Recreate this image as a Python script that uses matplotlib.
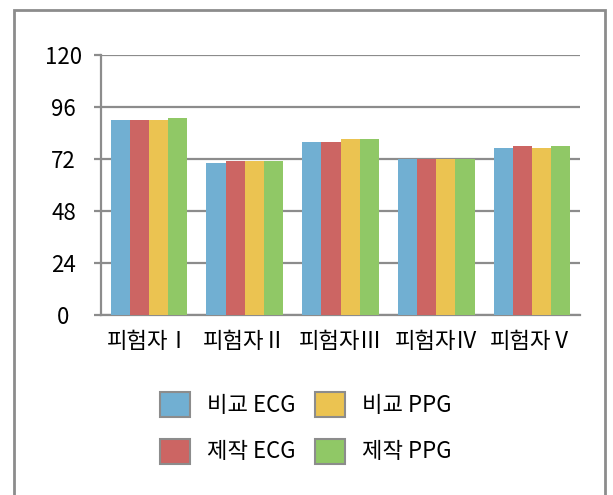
import matplotlib
matplotlib.use('Agg')
import matplotlib.pyplot as plt
from matplotlib.patches import Rectangle
import numpy as np

plt.rcParams['font.family'] = ['Noto Sans CJK KR', 'DejaVu Sans']

subjects = ['피험자Ⅰ', '피험자Ⅱ', '피험자Ⅲ', '피험자Ⅳ', '피험자Ⅴ']
series = ['비교 ECG', '제작 ECG', '비교 PPG', '제작 PPG']
ref_ecg = [90, 70, 80, 72, 77]
dev_ecg = [90, 71, 80, 72, 78]
ref_ppg = [90, 71, 81, 72, 77]
dev_ppg = [91, 71, 81, 72, 78]
colors = ['#71afd2', '#cc6563', '#ebc351', '#90c866']

W, H = 613, 495
fig = plt.figure(figsize=(W / 100, H / 100), dpi=100)
ax = fig.add_axes([101 / W, 1 - 315 / H, 479 / W, 260 / H])

grey = '#8c8c8c'
x = np.arange(len(subjects))
width = 0.8 / 4
for i, (name, vals) in enumerate(zip(series, [ref_ecg, dev_ecg, ref_ppg, dev_ppg])):
    ax.bar(x - 0.4 + width * (i + 0.5), vals, width, color=colors[i],
           linewidth=0, label=name, zorder=3)

ax.set_xlim(-0.5, len(subjects) - 0.5)
ax.set_ylim(0, 120)
ax.set_yticks([0, 24, 48, 72, 96, 120])
ax.set_xticks(x)
ax.set_xticklabels(subjects)
ax.yaxis.grid(True, color=grey, linewidth=1.6, zorder=0)
ax.tick_params(axis='y', length=5, width=1.6, color=grey, labelsize=16, pad=22)
ax.tick_params(axis='x', length=0, labelsize=16, pad=11)
for lbl in ax.get_yticklabels():
    lbl.set_horizontalalignment('center')
for s in ['top', 'right']:
    ax.spines[s].set_visible(False)
for s in ['left', 'bottom']:
    ax.spines[s].set_color(grey)
    ax.spines[s].set_linewidth(1.6)

# legend handles with grey outline
handles, labels = ax.get_legend_handles_labels()
leg = ax.legend(handles, labels, ncol=2, frameon=False, fontsize=16,
                loc='upper left', bbox_to_anchor=(149 / W, 1 - 381 / H),
                bbox_transform=fig.transFigure, borderpad=0,
                handlelength=1.35, handleheight=1.35, handletextpad=0.75,
                columnspacing=0.9, labelspacing=0.97)
for p in leg.get_patches():
    p.set_edgecolor(grey)
    p.set_linewidth(1.5)

# outer frame
fig.patches.append(Rectangle((14 / W, -0.05), 591 / W, 1.05 - 10 / H,
                             transform=fig.transFigure, fill=False,
                             edgecolor=grey, linewidth=2))

fig.savefig('out.png', dpi=100)
